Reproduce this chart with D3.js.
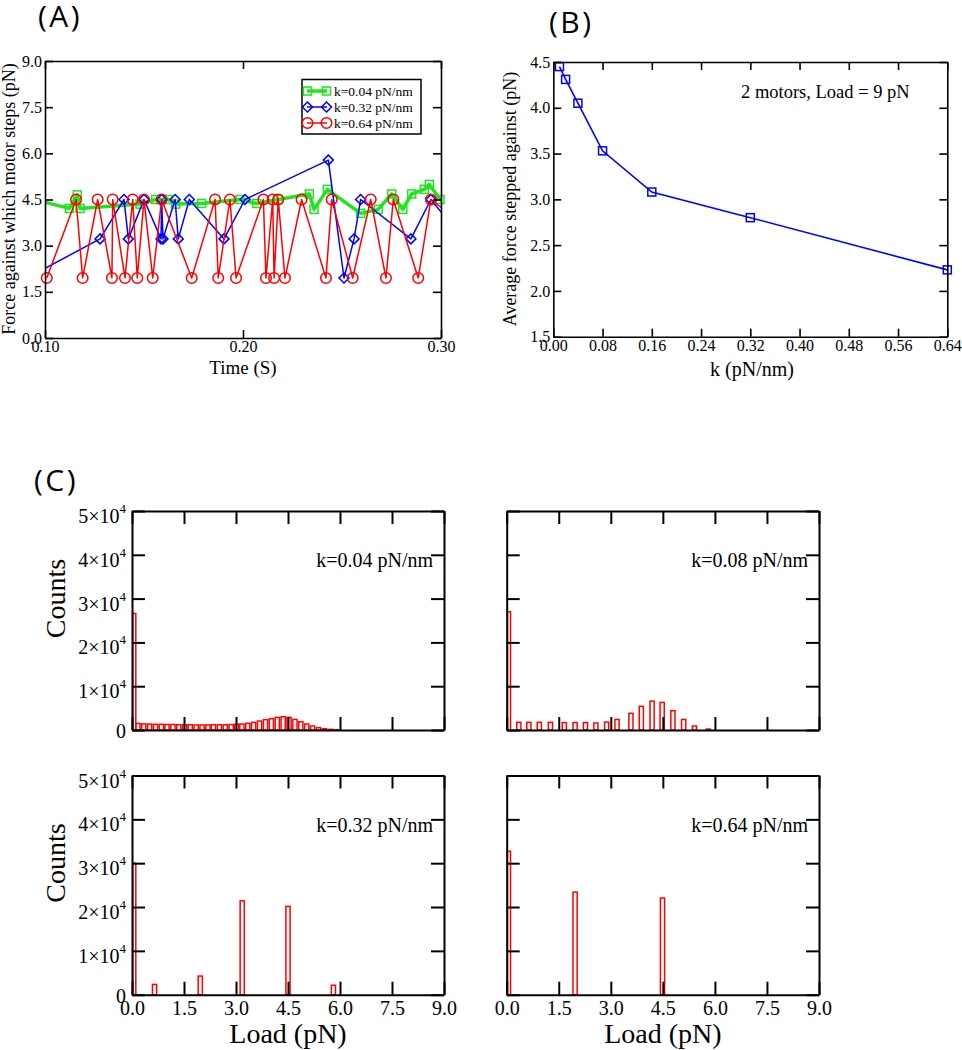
<!DOCTYPE html>
<html><head><meta charset="utf-8">
<script src="https://cdn.jsdelivr.net/npm/d3@7"></script>
<style>body{margin:0;background:#fff} svg{display:block}</style>
</head><body>
<svg id="c" width="962" height="1050"></svg>
<script>
// ---------------- DATA ----------------
// Panel A: force against which motor steps vs time
const timeK004 = [0.0995, 0.1123, 0.1163, 0.1177, 0.1480, 0.1559, 0.1623, 0.1660, 0.1791, 0.1985, 0.2069, 0.2178, 0.2335, 0.2359, 0.2426, 0.2594, 0.2683, 0.2751, 0.2807, 0.2852, 0.2916, 0.2941, 0.2995, 0.3050];
const forceK004 = [4.42, 4.21, 4.65, 4.21, 4.35, 4.50, 4.50, 4.35, 4.37, 4.50, 4.37, 4.50, 4.68, 4.18, 4.83, 4.05, 4.18, 4.68, 4.18, 4.68, 4.83, 4.99, 4.50, 4.30];
const timeK032 = [0.0909, 0.1278, 0.1399, 0.1421, 0.1500, 0.1586, 0.1589, 0.1596, 0.1657, 0.1673, 0.1729, 0.1904, 0.2010, 0.2431, 0.2510, 0.2561, 0.2594, 0.2848, 0.2949, 0.3111];
const forceK032 = [1.95, 3.22, 4.50, 3.22, 4.50, 3.22, 4.50, 3.22, 4.50, 3.22, 4.50, 3.22, 4.50, 5.78, 1.95, 3.22, 4.50, 3.22, 4.50, 3.22];
const timeK064 = [0.1009, 0.1157, 0.1190, 0.1266, 0.1338, 0.1342, 0.1404, 0.1443, 0.1466, 0.1500, 0.1544, 0.1589, 0.1741, 0.1859, 0.1875, 0.1934, 0.1965, 0.2103, 0.2116, 0.2150, 0.2157, 0.2178, 0.2212, 0.2296, 0.2419, 0.2448, 0.2554, 0.2645, 0.2722, 0.2759, 0.2885, 0.2949, 0.3460];
const forceK064 = [1.95, 4.5, 1.95, 4.5, 1.95, 4.5, 1.95, 4.5, 1.95, 4.5, 1.95, 4.5, 1.95, 4.5, 1.95, 4.5, 1.95, 4.5, 1.95, 4.5, 1.95, 4.5, 1.95, 4.5, 1.95, 4.5, 1.95, 4.5, 1.95, 4.5, 1.95, 4.5, 1.95];
const legendA = ["k=0.04 pN/nm", "k=0.32 pN/nm", "k=0.64 pN/nm"];
const xTicksA = [0.10, 0.20, 0.30];
const yTicksA = [0, 1.5, 3.0, 4.5, 6.0, 7.5, 9.0];

// Panel B: average force vs stiffness
const stiffB = [0.01, 0.02, 0.04, 0.08, 0.16, 0.32, 0.64];
const avgForceB = [4.45, 4.31, 4.05, 3.53, 3.08, 2.80, 2.23];
const xTicksB = [0, 0.08, 0.16, 0.24, 0.32, 0.40, 0.48, 0.56, 0.64];
const yTicksB = [1.5, 2.0, 2.5, 3.0, 3.5, 4.0, 4.5];

// Panel C: histograms of load
const loadK004 = [0.065, 0.17, 0.34, 0.51, 0.68, 0.85, 1.01, 1.18, 1.35, 1.52, 1.68, 1.85, 2.02, 2.19, 2.35, 2.52, 2.69, 2.86, 3.02, 3.17, 3.34, 3.51, 3.68, 3.85, 4.02, 4.19, 4.36, 4.53, 4.70, 4.87, 5.04, 5.21, 5.38, 5.55, 5.72, 5.89];
const countK004 = [26600, 1500, 1400, 1350, 1300, 1300, 1250, 1250, 1200, 1200, 1200, 1150, 1150, 1150, 1200, 1200, 1200, 1250, 1300, 1360, 1515, 1740, 2045, 2350, 2575, 2880, 3030, 2880, 2420, 1890, 1360, 910, 530, 300, 150, 75];
const loadK008 = [0.065, 0.35, 0.64, 0.94, 1.26, 1.66, 1.97, 2.27, 2.57, 2.88, 3.18, 3.58, 3.88, 4.19, 4.48, 4.79, 5.10, 5.41, 5.81];
const countK008 = [27000, 1750, 1750, 1750, 1750, 1700, 1700, 1700, 1600, 1800, 2400, 3800, 5400, 6600, 6300, 4400, 2400, 900, 200];
const loadK032 = [0.065, 0.65, 1.97, 3.18, 4.50, 5.81];
const countK032 = [30000, 2350, 4250, 21400, 20150, 2150];
const loadK064 = [0.065, 1.97, 4.49];
const countK064 = [32700, 23400, 22050];
const histLabels = ["k=0.04 pN/nm", "k=0.08 pN/nm", "k=0.32 pN/nm", "k=0.64 pN/nm"];
const xTicksC = [0, 1.5, 3.0, 4.5, 6.0, 7.5, 9.0];
const yTicksC = [0, 10000, 20000, 30000, 40000, 50000];

// ---------------- DRAWING ----------------
const FONT = "'Liberation Serif','Times New Roman',serif";
const SANS = "'Open Sans','Noto Sans',sans-serif";
const svg = d3.select("#c").attr("font-family", FONT);

function styleAxis(sel, fs, sw) {
  sel.attr("font-family", FONT).attr("font-size", fs);
  sel.select(".domain").attr("stroke", "#000").attr("stroke-width", sw);
  sel.selectAll(".tick line").attr("stroke", "#000").attr("stroke-width", sw);
  sel.selectAll(".tick text").attr("fill", "#000");
}

function frame(x, y, o) {
  const [xa, xb] = x.range(), [yb, ya] = y.range();
  const g = svg.append("g");
  g.append("g").attr("transform", `translate(0,${yb})`)
    .call(d3.axisBottom(x).tickValues(o.xt).tickSize(-o.tl).tickSizeOuter(0).tickPadding(o.xpad)
      .tickFormat(o.xf || (() => ""))).call(s => styleAxis(s, o.fs, o.sw));
  g.append("g").attr("transform", `translate(0,${ya})`)
    .call(d3.axisTop(x).tickValues(o.xt).tickSize(-o.tl).tickSizeOuter(0).tickFormat(() => ""))
    .call(s => styleAxis(s, o.fs, o.sw));
  g.append("g").attr("transform", `translate(${xa},0)`)
    .call(d3.axisLeft(y).tickValues(o.yt).tickSize(-o.tl).tickSizeOuter(0).tickPadding(o.ypad)
      .tickFormat(o.yf || (() => ""))).call(s => styleAxis(s, o.fs, o.sw));
  g.append("g").attr("transform", `translate(${xb},0)`)
    .call(d3.axisRight(y).tickValues(o.yt).tickSize(-o.tl).tickSizeOuter(0).tickFormat(() => ""))
    .call(s => styleAxis(s, o.fs, o.sw));
  return g;
}

// ===== Panel A =====
const xA = d3.scaleLinear().domain([0.10, 0.30]).range([45, 441]);
const yA = d3.scaleLinear().domain([0, 9]).range([338, 61]);
svg.append("defs").append("clipPath").attr("id", "clipA")
  .append("rect").attr("x", 45).attr("y", 61).attr("width", 396).attr("height", 277);

const seriesA = [
  {t: timeK004, f: forceK004, color: "#1fe51f", lw: 3.5, mk: "square"},
  {t: timeK032, f: forceK032, color: "#0000ff", lw: 1.5, mk: "diamond"},
  {t: timeK064, f: forceK064, color: "#ff0000", lw: 1.5, mk: "circle"}
];
function marker(g, type, cx, cy, color) {
  if (type === "square") g.append("rect").attr("x", cx - 4).attr("y", cy - 4).attr("width", 8).attr("height", 8)
    .attr("fill", "none").attr("stroke", color).attr("stroke-width", 1.5);
  else if (type === "diamond") g.append("path").attr("d", `M${cx},${cy - 5}L${cx + 5},${cy}L${cx},${cy + 5}L${cx - 5},${cy}Z`)
    .attr("fill", "none").attr("stroke", color).attr("stroke-width", 1.5);
  else g.append("circle").attr("cx", cx).attr("cy", cy).attr("r", 5.3)
    .attr("fill", "none").attr("stroke", color).attr("stroke-width", 1.5);
}
const gA = svg.append("g");
seriesA.forEach(s => {
  const pts = s.t.map((t, i) => [t, s.f[i]]);
  gA.append("path").attr("clip-path", "url(#clipA)")
    .attr("d", d3.line().x(d => xA(d[0])).y(d => yA(d[1]))(pts))
    .attr("fill", "none").attr("stroke", s.color).attr("stroke-width", s.lw).attr("stroke-linejoin", "round");
  pts.filter(d => d[0] >= 0.1 && d[0] <= 0.3).forEach(d => marker(gA, s.mk, xA(d[0]), yA(d[1]), s.color));
});
frame(xA, yA, {xt: xTicksA, yt: yTicksA, tl: 8, fs: 16, sw: 1.6, xpad: 3, ypad: 3,
  xf: d3.format(".2f"), yf: d3.format(".1f")});
// legend
const lg = svg.append("g");
lg.append("rect").attr("x", 302).attr("y", 79.5).attr("width", 119).attr("height", 54.5)
  .attr("fill", "#fff").attr("stroke", "#000").attr("stroke-width", 1.5);
seriesA.forEach((s, i) => {
  const yy = 91 + i * 16;
  lg.append("line").attr("x1", 307).attr("x2", 327).attr("y1", yy).attr("y2", yy)
    .attr("stroke", s.color).attr("stroke-width", s.lw);
  marker(lg, s.mk, 307.5, yy, s.color);
  marker(lg, s.mk, 326.5, yy, s.color);
  lg.append("text").attr("x", 334).attr("y", yy + 4.5).attr("font-size", 13.5).text(legendA[i]);
});
svg.append("text").attr("transform", "translate(15,199) rotate(-90)").attr("text-anchor", "middle")
  .attr("font-size", 18).text("Force against which motor steps (pN)");
svg.append("text").attr("x", 243).attr("y", 374).attr("text-anchor", "middle").attr("font-size", 19).text("Time (S)");
svg.append("text").attr("x", 38).attr("y", 27).attr("font-family", SANS).attr("font-size", 30)
  .attr("letter-spacing", 2.5).text("(A)");

// ===== Panel B =====
const xB = d3.scaleLinear().domain([0, 0.64]).range([553.3, 947.3]);
const yB = d3.scaleLinear().domain([1.5, 4.5]).range([336.7, 62]);
const ptsB = stiffB.map((k, i) => [k, avgForceB[i]]);
svg.append("path").attr("d", d3.line().x(d => xB(d[0])).y(d => yB(d[1]))(ptsB))
  .attr("fill", "none").attr("stroke", "#0000ff").attr("stroke-width", 1.6);
ptsB.forEach(d => svg.append("rect").attr("x", xB(d[0]) - 4).attr("y", yB(d[1]) - 4).attr("width", 8).attr("height", 8)
  .attr("fill", "none").attr("stroke", "#0000ff").attr("stroke-width", 1.5));
frame(xB, yB, {xt: xTicksB, yt: yTicksB, tl: 8, fs: 16, sw: 1.6, xpad: 3, ypad: 3,
  xf: d3.format(".2f"), yf: d3.format(".1f")});
svg.append("text").attr("x", 741).attr("y", 98).attr("font-size", 18.5).text("2 motors, Load = 9 pN");
svg.append("text").attr("transform", "translate(516,199) rotate(-90)").attr("text-anchor", "middle")
  .attr("font-size", 18).text("Average force stepped against (pN)");
svg.append("text").attr("x", 752).attr("y", 376).attr("text-anchor", "middle").attr("font-size", 20).text("k (pN/nm)");
svg.append("text").attr("x", 549).attr("y", 33).attr("font-family", SANS).attr("font-size", 30)
  .attr("letter-spacing", 2.5).text("(B)");

// ===== Panel C =====
svg.append("text").attr("x", 34).attr("y", 491).attr("font-family", SANS).attr("font-size", 30)
  .attr("letter-spacing", 2.5).text("(C)");
const panelsC = [
  {load: loadK004, count: countK004, x0: 132, x1: 444, y0: 511, y1: 730, left: true, bottom: false},
  {load: loadK008, count: countK008, x0: 506.7, x1: 819, y0: 511, y1: 730, left: false, bottom: false},
  {load: loadK032, count: countK032, x0: 132, x1: 444, y0: 775.5, y1: 994.7, left: true, bottom: true},
  {load: loadK064, count: countK064, x0: 506.7, x1: 819, y0: 775.5, y1: 994.7, left: false, bottom: true}
];
panelsC.forEach((p, pi) => {
  const x = d3.scaleLinear().domain([0, 9]).range([p.x0, p.x1]);
  const y = d3.scaleLinear().domain([0, 50000]).range([p.y1, p.y0]);
  const g = svg.append("g");
  p.load.forEach((l, i) => {
    const w = i === 0 ? 0.09 : 0.12;
    g.append("rect").attr("x", x(l - w / 2)).attr("y", y(p.count[i]))
      .attr("width", x(w) - x(0)).attr("height", y(0) - y(p.count[i]))
      .attr("fill", "none").attr("stroke", "#ff0000").attr("stroke-width", 1.5);
  });
  frame(x, y, {xt: xTicksC, yt: yTicksC, tl: 13, fs: 20, sw: 2, xpad: 6, ypad: 7,
    xf: p.bottom ? d3.format(".1f") : null, yf: null});
  if (p.left) {
    yTicksC.forEach(v => {
      const t = svg.append("text").attr("x", p.x0 - 6).attr("text-anchor", "end").attr("font-size", 20);
      if (v === 0) { t.attr("y", y(v) + 8).text("0"); }
      else {
        t.attr("y", y(v) + 12).text(`${v / 10000}×10`);
        t.append("tspan").attr("dy", -10).attr("font-size", 13).text("4");
      }
    });
    svg.append("text").attr("transform", `translate(65,${(p.y0 + p.y1) / 2 - 22}) rotate(-90)`)
      .attr("text-anchor", "middle").attr("font-size", 28).text("Counts");
  }
  if (p.bottom) {
    svg.append("text").attr("x", (p.x0 + p.x1) / 2).attr("y", 1043).attr("text-anchor", "middle")
      .attr("font-size", 28).text("Load (pN)");
  }
  svg.append("text").attr("x", p.x1 - 11).attr("y", p.y0 + 56).attr("text-anchor", "end")
    .attr("font-size", 20).text(histLabels[pi]);
});
</script>
</body></html>
